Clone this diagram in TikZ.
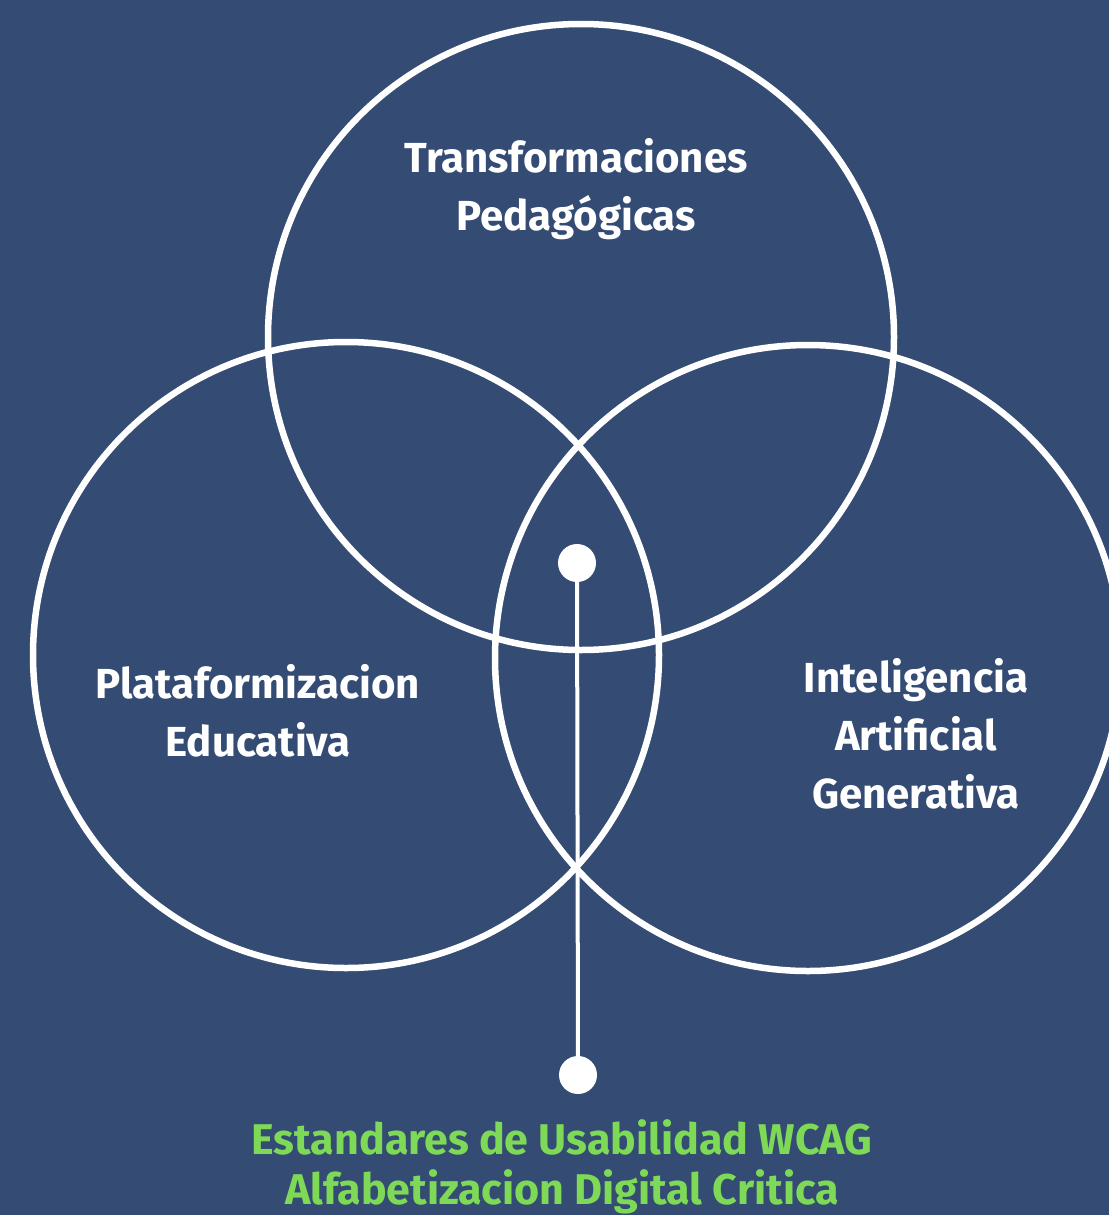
\documentclass[tikz,border=0pt]{standalone}
\usepackage{fontspec}
\setmainfont{Fira Sans}
\definecolor{bgblue}{HTML}{344B73}
\definecolor{lgreen}{HTML}{7ED957}
\begin{document}
\begin{tikzpicture}[x=1pt,y=-1pt,
  ring/.style={circle,draw=white,line width=6.5pt,minimum size=626pt,inner sep=0pt},
  dot/.style={circle,fill=white,minimum size=38pt,inner sep=0pt},
  lbl/.style={text=white,font=\fontsize{42}{58}\selectfont\bfseries,align=center},
  glbl/.style={text=lgreen,font=\fontsize{43}{50}\selectfont\bfseries,align=center}]
\fill[bgblue] (0,0) rectangle (1109,1215);
\useasboundingbox (0,0) rectangle (1109,1215);
\node[ring] (top) at (581,337) {};
\node[ring] (left) at (346,655) {};
\node[ring] (right) at (808,658) {};
\node[dot] (d1) at (577,563) {};
\node[dot] (d2) at (578,1075) {};
\draw[white,line width=4pt] (d1.center) -- (d2.center);
\node[lbl] (t1) at (576,189) {Transformaciones\\Pedagógicas};
\node[lbl] (t2) at (258,711) {Plataformizacion\\Educativa};
\node[lbl] (t3) at (916,734) {Inteligencia\\Artificial\\Generativa};
\node[glbl] (t4) at (562,1167) {Estandares de Usabilidad WCAG\\Alfabetizacion Digital Critica};
\end{tikzpicture}
\end{document}
